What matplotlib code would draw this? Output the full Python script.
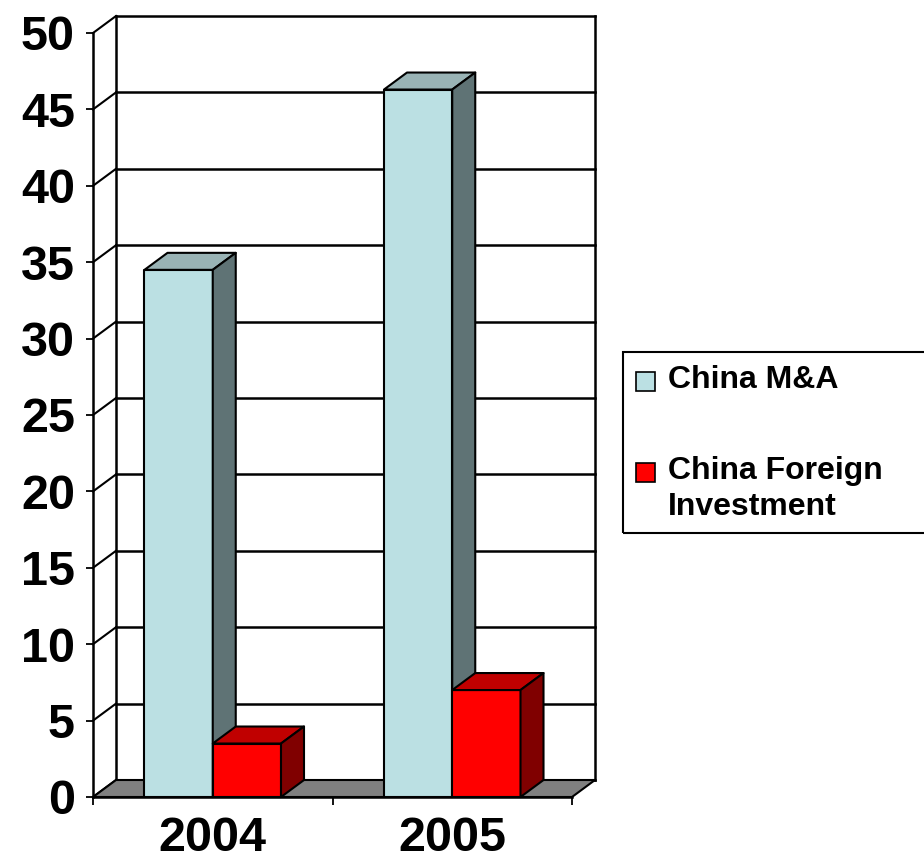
import matplotlib.pyplot as plt
from matplotlib.patches import Polygon, Rectangle

plt.rcParams['font.family'] = ['Liberation Sans', 'DejaVu Sans']
plt.rcParams['font.weight'] = 'bold'

years = ['2004', '2005']
series = ['China M&A', 'China Foreign\nInvestment']
ma_values = [34.5, 46.3]
fdi_values = [3.5, 7.0]
y_ticks = list(range(0, 51, 5))

front_colors = ['#BBE0E3', '#FF0000']
top_colors = ['#99B3B5', '#C00000']
side_colors = ['#5F7375', '#800000']

W, H = 924, 866
fig = plt.figure(figsize=(W / 100, H / 100), dpi=100)
# front plane of the 3d box: x 93..572 px, y 797..33 px
ax = fig.add_axes([93 / W, 1 - 797 / H, 479 / W, 764 / H])
ax.set_xlim(0, len(years))
ax.set_ylim(0, 50)

# depth offset of the 3d look, in data units
dx = 23 / (479 / len(years))
dy = 17 / (764 / 50)

# back wall gridlines and side wall diagonals
for v in y_ticks:
    ax.plot([dx, len(years) + dx], [v + dy, v + dy], color='black', lw=1.8,
            zorder=1, clip_on=False)
    ax.plot([0, dx], [v, v + dy], color='black', lw=1.5, zorder=1, clip_on=False)
for xb in (dx, len(years) + dx):
    ax.plot([xb, xb], [dy, 50 + dy], color='black', lw=1.8, zorder=1, clip_on=False)

# floor
floor = Polygon([(0, 0), (len(years), 0), (len(years) + dx, dy), (dx, dy)],
                facecolor='#808080', edgecolor='black', lw=1.5, zorder=2,
                clip_on=False)
ax.add_patch(floor)

bar_w = 0.285
offset = 0.215
for i, year in enumerate(years):
    for j, vals in enumerate([ma_values, fdi_values]):
        v = vals[i]
        x0 = i + offset + j * bar_w
        x1 = x0 + bar_w
        faces = [
            ([(x0, 0), (x1, 0), (x1, v), (x0, v)], front_colors[j]),
            ([(x0, v), (x1, v), (x1 + dx, v + dy), (x0 + dx, v + dy)], top_colors[j]),
            ([(x1, 0), (x1 + dx, dy), (x1 + dx, v + dy), (x1, v)], side_colors[j]),
        ]
        for pts, c in faces:
            ax.add_patch(Polygon(pts, facecolor=c, edgecolor='black', lw=1.5,
                                 zorder=3, clip_on=False, joinstyle='round'))

for s in ['top', 'right']:
    ax.spines[s].set_visible(False)
for s in ['left', 'bottom']:
    ax.spines[s].set_linewidth(1.8)
    ax.spines[s].set_zorder(4)

ax.set_yticks(y_ticks)
ax.set_yticklabels([str(t) for t in y_ticks], fontsize=35, fontweight='bold')
ax.tick_params(axis='y', direction='out', length=5, width=1.3, pad=8)

ax.set_xticks(range(len(years) + 1))
ax.set_xticklabels([''] * (len(years) + 1))
ax.set_xticks([i + 0.5 for i in range(len(years))], minor=True)
ax.set_xticklabels(years, minor=True, fontsize=35, fontweight='bold')
ax.tick_params(axis='x', which='major', direction='out', length=6, width=1.3)
ax.tick_params(axis='x', which='minor', length=0, pad=14)

# legend box (runs off the right edge)
fig.patches.append(Rectangle((623 / W, 1 - 533 / H), (940 - 623) / W, (533 - 352) / H,
                             transform=fig.transFigure, fill=False,
                             edgecolor='black', lw=1.5))
legend_tops = [372, 463]
for j, name in enumerate(series):
    top = legend_tops[j]
    fig.patches.append(Rectangle((636 / W, 1 - (top + 19) / H), 19 / W, 19 / H,
                                 transform=fig.transFigure,
                                 facecolor=front_colors[j], edgecolor='black', lw=1.2))
    fig.text(668 / W, 1 - (top - 7) / H, name, fontsize=23, fontweight='bold',
             va='top', ha='left', linespacing=1.25)

fig.savefig('out.png', dpi=100)
